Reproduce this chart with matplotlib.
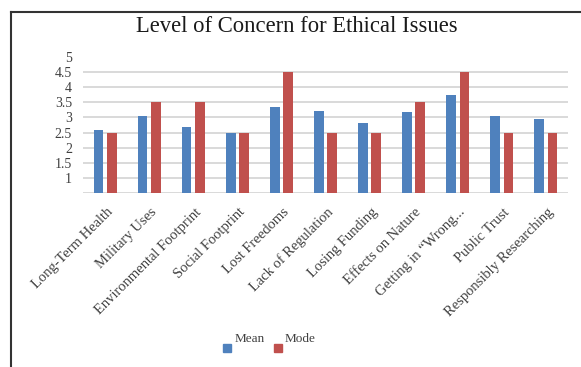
import matplotlib
matplotlib.use("Agg")
import matplotlib.pyplot as plt
import matplotlib.transforms as mtransforms
import numpy as np
from matplotlib.lines import Line2D
from matplotlib.patches import Rectangle

categories = ["Long-Term Health", "Military Uses", "Environmental Footprint",
              "Social Footprint", "Lost Freedoms", "Lack of Regulation",
              "Losing Funding", "Effects on Nature", "Getting in \u201cWrong...",
              "Public Trust", "Responsibly Researching"]
mean_vals = [2.58, 3.06, 2.70, 2.47, 3.35, 3.21, 2.81, 3.17, 3.74, 3.04, 2.95]
mode_vals = [2.5, 3.5, 3.5, 2.5, 4.5, 2.5, 2.5, 3.5, 4.5, 2.5, 2.5]
ytick_vals = [1, 1.5, 2, 2.5, 3, 3.5, 4, 4.5, 5]
ytick_labels = ["1", "1.5", "2", "2.5", "3", "3.5", "4", "4.5", "5"]
series_names = ["Mean", "Mode"]

BLUE = "#4F81BD"
RED = "#C0504D"
TXT = "#404040"
plt.rcParams["font.family"] = ["Liberation Serif", "DejaVu Serif"]

W, H = 581, 367
fig = plt.figure(figsize=(W / 100, H / 100), dpi=100)
ax = fig.add_axes([83 / W, 1 - 193 / H, 485 / W, 136 / H])

x = np.arange(len(categories))
w = 0.22
ax.bar(x - 0.15, mean_vals, w, color=BLUE, zorder=3)
ax.bar(x + 0.15, mode_vals, w, color=RED, zorder=3)

for v in [0.5] + ytick_vals[:-1]:
    ax.axhline(v, color="#D9D9D9", lw=1.4, zorder=1)

ax.set_xlim(-0.5, len(categories) - 0.5)
ax.set_ylim(0.5, 5)
ax.set_yticks(ytick_vals)
ax.set_yticklabels(ytick_labels, fontsize=10, color=TXT)
ax.set_xticks(x)
ax.set_xticklabels(categories, rotation=45, ha="right", rotation_mode="anchor",
                   fontsize=10.5, color=TXT)
ax.tick_params(length=0)
ax.tick_params(axis="y", pad=8)
ax.tick_params(axis="x", pad=9)
shift = mtransforms.ScaledTranslation(1 / 100, 0, fig.dpi_scale_trans)
for lbl in ax.get_xticklabels():
    lbl.set_transform(lbl.get_transform() + shift)
for s in ax.spines.values():
    s.set_visible(False)

fig.text(0.511, 1 - 27 / H, "Level of Concern for Ethical Issues",
         ha="center", va="center", fontsize=16.3, color="#1a1a1a")

# legend: squares sit lower than the text, as in the source
for (sx, tx), name, col in zip([(223, 235), (274, 285)], series_names, [BLUE, RED]):
    fig.add_artist(Rectangle((sx / W, 1 - 352 / H), 8 / W, 8 / H,
                             transform=fig.transFigure, color=col))
    fig.text(tx / W, 1 - 339 / H, name, ha="left", va="center", fontsize=9.5, color=TXT)

# page frame lines (top and left)
fig.add_artist(Line2D([11 / W, 11 / W], [0, 1 - 12 / H], color="#333333", lw=1.5))
fig.add_artist(Line2D([11 / W, 1], [1 - 12 / H, 1 - 12 / H], color="#333333", lw=1.5))

fig.savefig("out.png", dpi=100)
